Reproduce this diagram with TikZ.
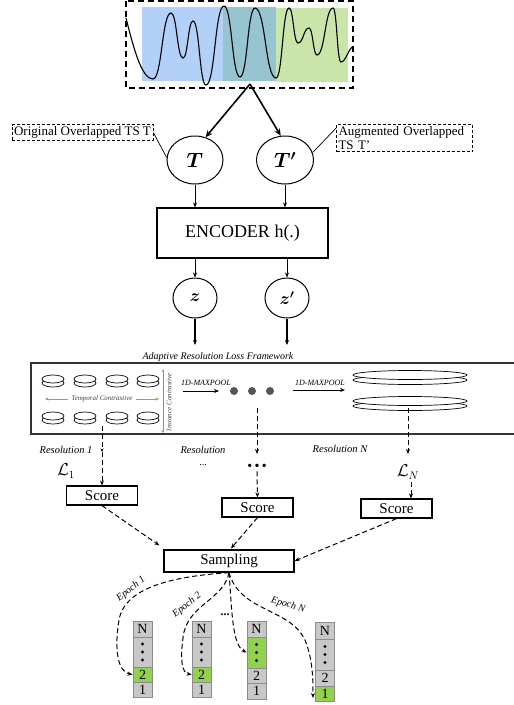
\documentclass[tikz,border=0pt]{standalone}
\usepackage{fontspec}
\setmainfont{Liberation Serif}
\usetikzlibrary{arrows.meta,shapes.geometric,calc}
\definecolor{tsblue}{RGB}{179,209,248}
\definecolor{tsteal}{RGB}{150,196,208}
\definecolor{tsgreen}{RGB}{201,229,170}
\definecolor{tcgreen}{RGB}{110,190,50}
\definecolor{icblue}{RGB}{90,150,225}
\definecolor{cellgray}{RGB}{200,200,200}
\definecolor{cellgreen}{RGB}{146,208,80}
\definecolor{cellline}{RGB}{140,140,140}
\definecolor{dotgray}{RGB}{85,85,85}
\begin{document}
\begin{tikzpicture}[x=1pt,y=-1pt,
  arr/.style={-{Stealth[length=5pt,width=4pt]}, line width=1pt},
  bigarr/.style={-{Stealth[length=7pt,width=6pt]}, line width=1.6pt},
  darr/.style={arr, dash pattern=on 5pt off 3pt},
  circ/.style={draw, ellipse, line width=1pt, inner sep=0pt},
  lblbox/.style={draw, dash pattern=on 3pt off 2pt, line width=0.8pt, inner sep=2pt, font=\fontsize{13}{14}\selectfont, align=left},
  scorebox/.style={draw, line width=1.2pt, minimum width=71pt, minimum height=19pt, inner sep=0pt, font=\fontsize{15}{15}\selectfont},
  itl/.style={font=\fontsize{10.5}{12}\selectfont\itshape},
  epl/.style={font=\fontsize{10}{12}\selectfont\itshape, inner sep=0pt},
  mpl/.style={font=\fontsize{8}{9}\selectfont\itshape},
  cell/.style={draw=cellline, line width=0.8pt, fill=cellgray, minimum width=19pt, inner sep=0pt, font=\fontsize{14}{14}\selectfont},
  garr/.style={-{Stealth[length=3.5pt,width=3pt]}, tcgreen, line width=1pt},
  disk/.style={draw, fill=white, line width=0.7pt},
]
\useasboundingbox (0,0) rectangle (514,705);

% ---- top time series box
\fill[tsblue] (142,7) rectangle (223,81);
\fill[tsteal] (223,7) rectangle (276,81);
\fill[tsgreen] (276,8) rectangle (348,82);
\draw[line width=1.1pt]
  (126,18) .. controls (134,50) and (142,79) .. (153,79)
  .. controls (162,79) and (162,13) .. (171,13)
  .. controls (177,13) and (177,58) .. (183,58)
  .. controls (188,58) and (188,21) .. (193,21)
  .. controls (199.5,21) and (199.5,85) .. (206,85)
  .. controls (215,85) and (215,6) .. (224,6)
  .. controls (232,6) and (232,77) .. (240,77)
  .. controls (247.5,77) and (247.5,8) .. (255,8)
  .. controls (265.5,8) and (265.5,78) .. (276,78)
  .. controls (282.5,78) and (282.5,8) .. (289,8)
  .. controls (293.5,8) and (293.5,43) .. (298,43)
  .. controls (303.5,43) and (303.5,28) .. (309,28)
  .. controls (313,28) and (313,55) .. (317,55)
  .. controls (325,55) and (325,8) .. (333,8)
  .. controls (337,8) and (337,62) .. (341,62)
  .. controls (346,62) and (349,47) .. (353,47);
\draw[line width=1.4pt, dash pattern=on 6pt off 4pt] (126,1) rectangle (353,88);
\coordinate (apex) at (250,84);

% ---- T and T'
\node[circ, minimum width=56pt, minimum height=48pt, font=\fontsize{20}{22}\selectfont\boldmath] (T) at (195,160) {$T$};
\node[circ, minimum width=57pt, minimum height=48pt, font=\fontsize{20}{22}\selectfont\boldmath] (Tp) at (285,160) {$T'$};
\draw[bigarr] (apex) -- (T.65);
\draw[bigarr] (apex) -- (Tp.100);

\node[lblbox] (orig) at (82.5,132.5) {Original Overlapped TS T};
\node[lblbox, text width=132pt] (aug) at (404.5,138) {Augmented Overlapped\\TS T’};
\draw[line width=0.7pt] (orig.east) -- (T.175);
\draw[line width=0.7pt] (Tp.15) -- ($(aug.north west)+(0,4)$);

% ---- encoder
\node[draw, line width=1.2pt, minimum width=171pt, minimum height=50pt, inner sep=0pt,
      font=\fontsize{18}{20}\selectfont] (enc) at (242.5,233) {ENCODER h(.)};
\draw[arr] (T.south) -- (T.south |- enc.north);
\draw[arr] (Tp.south) -- (Tp.south |- enc.north);

% ---- z and z'
\node[circ, minimum width=44pt, minimum height=40pt, font=\fontsize{18}{20}\selectfont\boldmath] (z) at (195,298) {$z$};
\node[circ, minimum width=44pt, minimum height=40pt, font=\fontsize{18}{20}\selectfont\boldmath] (zp) at (287,298) {$z'$};
\draw[arr] (z.north |- enc.south) -- (z.north);
\draw[arr] (zp.north |- enc.south) -- (zp.north);
\coordinate (zend) at (195,345);
\coordinate (zpend) at (287,345);
\draw[arr, line width=1.3pt] (z.south) -- (zend);
\draw[arr, line width=1.3pt] (zp.south) -- (zpend);

% ---- framework
\node[font=\fontsize{10}{12}\selectfont\itshape] (fwt) at (218,357) {Adaptive Resolution Loss Framework};
\draw[line width=1.3pt, draw=black!80] (515,363) -- (31,363) -- (31,434) -- (515,434);

\foreach \cx in {53,85,117,148}{
  \foreach \cy in {379,416}{
    \draw[disk] (\cx,\cy+4) ellipse [x radius=11pt, y radius=4pt];
    \draw[disk] (\cx,\cy) ellipse [x radius=11pt, y radius=4pt];
  }
}
\node[font=\fontsize{7}{8}\selectfont\itshape, text=black!75, inner sep=3pt] (tc) at (102,399) {Temporal Contrastive};
\coordinate (tcl) at (45,399);
\coordinate (tcr) at (159,399);
\draw[garr] (tc.west) -- (tcl);
\draw[garr] (tc.east) -- (tcr);
\coordinate (ict) at (163,369);
\coordinate (icb) at (163,433);
\draw[{Stealth[length=3pt,width=2.5pt]}-{Stealth[length=3pt,width=2.5pt]}, icblue, line width=0.9pt] (ict) -- (icb);
\node[font=\fontsize{7}{8}\selectfont\itshape, text=black!75, rotate=90, inner sep=0pt] (ic) at (169,402) {Instance Contrastive};

\node[mpl] (mp1) at (206,383) {1D-MAXPOOL};
\coordinate (mp1a) at (183,391);
\coordinate (mp1b) at (219,391);
\draw[arr] (mp1a) -- (mp1b);
\foreach \dx/\nm in {234/d1,252/d2,270/d3}{
  \node[circle, fill=dotgray, inner sep=0pt, minimum size=8pt] (\nm) at (\dx,391) {};
}
\node[mpl] (mp2) at (320,383) {1D-MAXPOOL};
\coordinate (mp2a) at (293,390);
\coordinate (mp2b) at (345,390);
\draw[arr] (mp2a) -- (mp2b);
\foreach \cy in {375,401}{
  \draw[disk] (410,\cy+5) ellipse [x radius=57pt, y radius=4.5pt];
  \draw[disk] (410,\cy) ellipse [x radius=57pt, y radius=4.5pt];
}

% ---- resolution branches
\coordinate (r1a) at (102,426);
\coordinate (r1b) at (102,452);
\coordinate (r2a) at (257,408);
\coordinate (r2b) at (257,454);
\coordinate (r3a) at (408,408);
\coordinate (r3b) at (408,454);

\node[scorebox] (s1) at (102,495.5) {Score};
\node[scorebox] (s2) at (257.5,507.5) {Score};
\node[scorebox] (s3) at (396.5,508.5) {Score};

\draw[darr, -{Stealth[length=3.5pt,width=3pt]}] (r1a) -- (r1b);
\draw[darr] (r1b) -- (s1.north);
\draw[darr] (r2a) -- (r2b);
\node[font=\fontsize{14}{14}\selectfont, inner sep=1pt] (mdots) at (257,467) {•\,•\,•};
\draw[darr] (mdots.south) -- (s2.north);
\draw[darr] (r3a) -- (r3b);
\node[font=\fontsize{16}{16}\selectfont, inner sep=1pt] (LN) at (408,472) {$\mathcal{L}_N$};
\coordinate (ln3) at (411,482);
\draw[darr] (ln3) -- (ln3 |- s3.north);

\node[itl] (res1) at (66,450) {Resolution 1};
\node[itl] (res2) at (203,450) {Resolution};
\node[font=\fontsize{10}{10}\selectfont] (res2d) at (203,465) {...};
\node[itl] (res3) at (340,449) {Resolution N};
\node[font=\fontsize{16}{16}\selectfont] (L1) at (66,471) {$\mathcal{L}_1$};

% ---- sampling
\node[draw, line width=1.2pt, minimum width=130pt, minimum height=22pt, inner sep=0pt,
      font=\fontsize{15}{15}\selectfont] (samp) at (229,561) {Sampling};
\draw[darr] (s1.south) -- ($(samp.north west)+(-4,-4)$);
\draw[darr] (s2.south) -- ($(samp.north)+(2,-1)$);
\draw[darr] (s3.south) -- (samp.east);

% ---- columns
\node[cell, minimum height=16pt] (c1N) at (142.5,629) {N};
\node[cell, minimum height=30pt] (c1d) at (142.5,652) {};
\node[cell, minimum height=15pt, fill=cellgreen] (c1t) at (142.5,674.5) {2};
\node[cell, minimum height=15pt] (c1o) at (142.5,689.5) {1};
\node[cell, minimum height=16pt] (c2N) at (201.5,629) {N};
\node[cell, minimum height=30pt] (c2d) at (201.5,652) {};
\node[cell, minimum height=15pt, fill=cellgreen] (c2t) at (201.5,674.5) {2};
\node[cell, minimum height=15pt] (c2o) at (201.5,689.5) {1};
\node[cell, minimum height=16pt] (c3N) at (256.5,629) {N};
\node[cell, minimum height=31pt, fill=cellgreen] (c3d) at (256.5,652.5) {};
\node[cell, minimum height=15pt] (c3t) at (256.5,675.5) {2};
\node[cell, minimum height=16pt] (c3o) at (256.5,691) {1};
\node[cell, minimum height=17pt] (c4N) at (325,630.5) {N};
\node[cell, minimum height=31pt] (c4d) at (325,654.5) {};
\node[cell, minimum height=16pt] (c4t) at (325,678) {2};
\node[cell, minimum height=15pt, fill=cellgreen] (c4o) at (325,693.5) {1};
\foreach \c in {c1d,c2d,c3d,c4d}{
  \foreach \d in {-8,0,8}{
    \fill ($(\c.center)+(0,\d)$) circle [radius=1.7pt];
  }
}
\node[font=\fontsize{12}{12}\selectfont\bfseries, inner sep=0pt] (mid) at (225,615) {...};

% ---- epoch arrows
\draw[darr] (samp.south) .. controls (180,576) and (125,585) .. (119,620)
   .. controls (114,650) and (118,672) .. (c1t.west);
\draw[darr] (samp.south) .. controls (224,600) and (186,605) .. (183,638)
   .. controls (180,660) and (182,673) .. (c2t.west);
\draw[darr] (samp.south) .. controls (232,610) and (232,645) .. (c3d.west);
\coordinate (eN) at (313,698);
\draw[darr] (samp.south) .. controls (240,612) and (290,608) .. (305,640)
   .. controls (313,660) and (313,680) .. (eN);

\node[epl, rotate=38] (ep1) at (131,589) {Epoch 1};
\node[epl, rotate=38] (ep2) at (187,605) {Epoch 2};
\node[epl, rotate=-16] (epN) at (288,605) {Epoch N};
\end{tikzpicture}
\end{document}
